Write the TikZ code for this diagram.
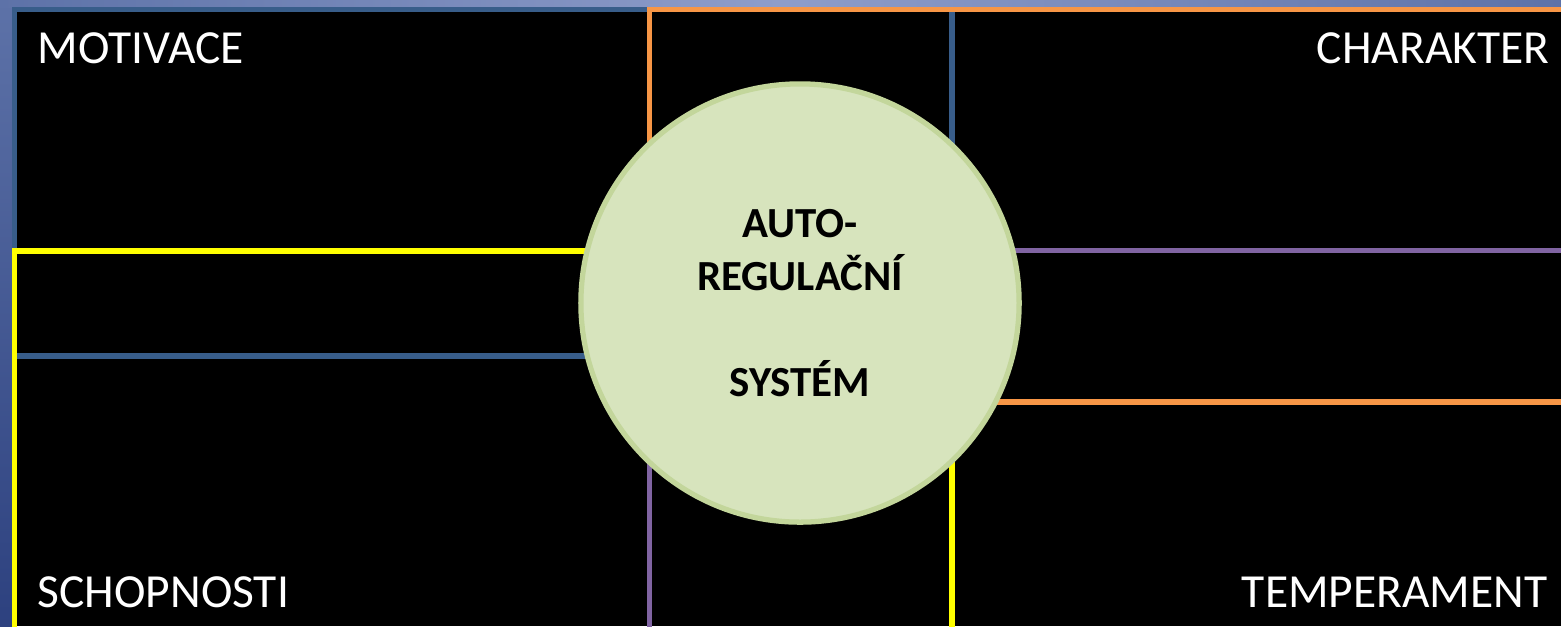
\documentclass[tikz,border=0pt]{standalone}
\usepackage{fontspec}
\setmainfont{Carlito}
\definecolor{slidetop}{HTML}{8E9DCA}
\definecolor{slideside}{HTML}{5D72A8}
\definecolor{slidelow}{HTML}{2D417F}
\definecolor{frameblue}{HTML}{385D8A}
\definecolor{frameorange}{HTML}{F79646}
\definecolor{frameyellow}{HTML}{FFFF00}
\definecolor{framepurple}{HTML}{8064A2}
\definecolor{corefill}{HTML}{D7E4BD}
\definecolor{coreline}{HTML}{C3D69B}
\begin{document}
\begin{tikzpicture}[x=0.01cm, y=-0.01cm,
  frame/.style={line width=1.5pt},
  corner/.style={font=\fontsize{13.5}{16}\selectfont, text=white, inner sep=0pt},
  core/.style={circle, fill=corefill, draw=coreline, line width=1.5pt,
    minimum size=4.38cm, align=center, font=\bfseries\fontsize{12.2}{15.1}\selectfont}
]
\useasboundingbox (0,0) rectangle (1561,626);
\clip (0,0) rectangle (1561,626);
% slide background
\shade[top color=slideside, bottom color=slidelow] (0,0) rectangle (12,626);
\shade[left color=slideside, right color=slideside, middle color=slidetop] (0,0) rectangle (1561,7);
\fill[black] (12,7) rectangle (1561,626);
% the four frames
\draw[frame, frameblue] (14.5,9.5) rectangle (952,356);
\draw[frame, frameyellow] (14.5,251) rectangle (952,700);
\draw[frame, frameorange] (649.5,9.5) rectangle (1700,402);
\draw[frame, framepurple] (649.5,250.5) rectangle (1700,700);
% centre circle
\node[core] (auto) at (800,303) {AUTO-\\REGULAČNÍ\\[15pt]SYSTÉM};
% corner labels
\node[corner, anchor=base west] (motiv) at (37,63) {MOTIVACE};
\node[corner, anchor=base east] (charakt) at (1550,63) {CHARAKTER};
\node[corner, anchor=base west] (schop) at (37,607) {SCHOPNOSTI};
\node[corner, anchor=base east] (temper) at (1548,607) {TEMPERAMENT};
\end{tikzpicture}
\end{document}
